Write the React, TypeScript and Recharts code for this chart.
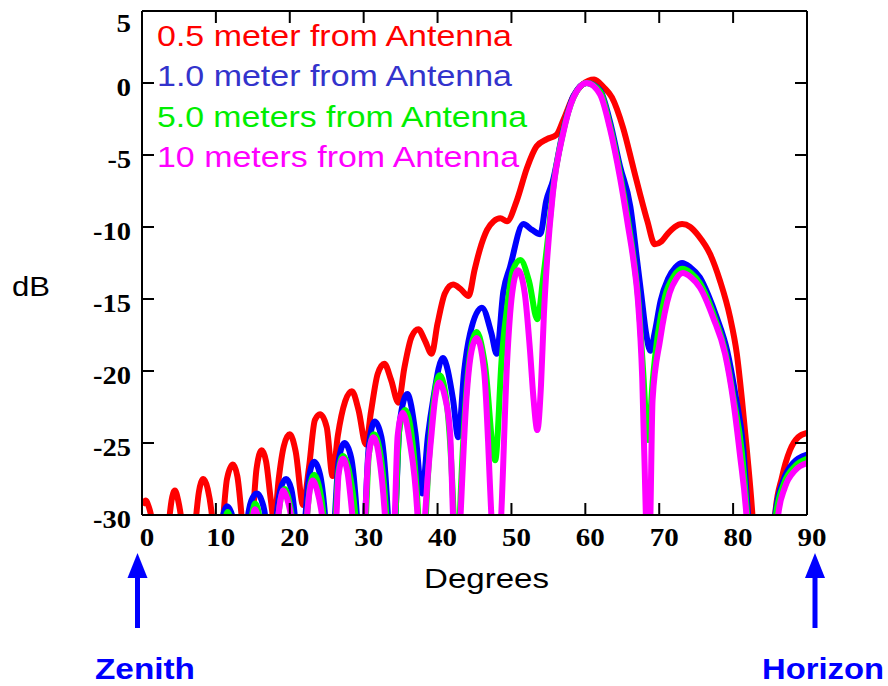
import { LineChart, Line, XAxis, YAxis } from 'recharts'

// angle from zenith (deg), level (dB)
const degTicks = [0, 10, 20, 30, 40, 50, 60, 70, 80, 90]
const dbTicks = [5, 0, -5, -10, -15, -20, -25, -30]

const legendLabels = [
  '0.5 meter from Antenna',
  '1.0 meter from Antenna',
  '5.0 meters from Antenna',
  '10 meters from Antenna',
]

const red05: [number, number][] = [
  [0, -29.3], [0.5, -29.0], [0.9, -29.4], [1.3, -30.2], [2.5, -36],
  [3.7, -30.2], [4.0, -29.0], [4.45, -28.3], [4.9, -29.0], [5.3, -30.2], [6.3, -36],
  [7.3, -30.2], [7.7, -28.4], [8.3, -27.5], [8.9, -28.2], [9.5, -30.2], [10.3, -36],
  [11.0, -30.2], [11.5, -27.5], [12.3, -26.5], [12.9, -27.3], [13.5, -30.2], [14.3, -36],
  [15.0, -30.2], [15.5, -26.8], [16.2, -25.5], [16.8, -26.3], [17.4, -28.8], [17.9, -30.5],
  [18.5, -27.5], [19.2, -25.2], [20.0, -24.4], [20.8, -25.6], [21.8, -29.3],
  [22.6, -26.7], [23.4, -23.4], [24.1, -23.0], [25.0, -23.9], [25.8, -27.3],
  [26.5, -24.5], [27.5, -22.1], [28.4, -21.4], [29.3, -22.7], [30.3, -25.1],
  [31.0, -22.8], [31.9, -20.2], [32.8, -19.5], [33.7, -20.6], [34.7, -22.2],
  [35.5, -19.8], [36.5, -17.6], [37.4, -17.1], [38.3, -17.9], [39.2, -18.8],
  [40.0, -16.7], [41.0, -14.6], [42.1, -14.0], [43.1, -14.3], [44.2, -14.8],
  [45.0, -13.0], [45.7, -11.6], [46.7, -10.2], [47.6, -9.6], [48.5, -9.4], [49.4, -9.6],
  [50.7, -8.2], [52.1, -5.9], [53.4, -4.4], [54.8, -3.9], [56.1, -3.6], [57.0, -2.6],
  [58.4, -0.9], [59.6, -0.1], [61.2, 0.25], [62.5, -0.3], [63.6, -1.0], [65.1, -3.1],
  [66.5, -5.9], [67.4, -7.7], [68.4, -9.6], [69.4, -11.2], [70.3, -11.0], [71.1, -10.5],
  [72.1, -10.0], [73.1, -9.8], [74.2, -10.0], [75.3, -10.6], [76.9, -11.9], [78.2, -13.7],
  [79.6, -16.3], [80.5, -18.8], [81.2, -22.0], [81.9, -25.7], [82.6, -29.9], [83.3, -36],
  [85.0, -36], [85.7, -29.9], [86.6, -27.4], [87.7, -25.5], [88.8, -24.6], [90, -24.3],
]

const blue10: [number, number][] = [
  [9.8, -36], [10.9, -30.2], [11.5, -29.4], [12.3, -30.2], [13.3, -36],
  [14.3, -30.2], [14.8, -29.0], [15.55, -28.5], [16.2, -29.0], [16.7, -30.2], [17.4, -36],
  [18.2, -30.2], [18.7, -28.3], [19.5, -27.5], [20.2, -28.2], [20.7, -30.2], [21.4, -36],
  [22.1, -30.2], [22.6, -27.4], [23.3, -26.3], [24.1, -27.2], [24.8, -30.2], [25.5, -36],
  [26.1, -30.2], [26.6, -26.3], [27.4, -25.0], [28.3, -26.0], [29.1, -30.2], [29.7, -36],
  [30.2, -30.2], [30.7, -25.2], [31.5, -23.5], [32.4, -24.6], [33.3, -30.2], [33.8, -36],
  [34.3, -30.2], [34.9, -23.5], [35.9, -21.6], [37.0, -24.3], [37.9, -28.5],
  [38.7, -24.5], [39.4, -22.0], [40.7, -19.1], [42.1, -22.0], [42.8, -24.6],
  [43.6, -20.0], [44.4, -17.4], [46.0, -15.6], [47.3, -17.4], [48.0, -18.8],
  [48.9, -14.5], [49.8, -12.8], [51.6, -9.8], [52.8, -10.2], [53.9, -10.5],
  [54.7, -8.2], [55.6, -6.8], [57.0, -3.3], [58.4, -0.9], [60.2, 0.0], [62.0, -0.5],
  [63.3, -2.6], [64.7, -5.8], [66.1, -8.6], [67.0, -12.3], [67.6, -14.8], [68.2, -17.3],
  [68.8, -18.6], [69.4, -17.3], [70.2, -15.1], [71.2, -13.6], [72.2, -12.8], [73.1, -12.5],
  [74.2, -12.8], [75.5, -13.5], [76.7, -14.8], [77.8, -16.3], [79.2, -18.6], [80.3, -21.6],
  [81.4, -25.5], [82.0, -29.9], [82.7, -36], [85.0, -36], [85.7, -30], [86.8, -27.6],
  [88.1, -26.4], [90, -25.8],
]

const green50: [number, number][] = [
  [11.0, -36], [11.3, -30.2], [11.6, -29.8], [11.9, -30.2], [12.5, -36],
  [14.8, -30.2], [15.3, -29.2], [15.9, -30.2], [16.8, -36],
  [18.4, -30.2], [18.8, -28.8], [19.3, -28.2], [19.8, -28.8], [20.3, -30.2], [21.2, -36],
  [22.3, -30.2], [22.8, -27.8], [23.3, -27.2], [23.9, -27.9], [24.6, -30.2], [25.4, -36],
  [26.2, -30.2], [26.6, -26.9], [27.2, -25.9], [28.0, -26.9], [28.9, -30.2], [29.6, -36],
  [30.3, -30.2], [30.7, -25.8], [31.4, -24.4], [32.2, -25.6], [33.1, -30.2], [33.7, -36],
  [34.3, -30.2], [34.8, -24.2], [35.6, -22.7], [36.5, -24.5], [37.4, -30.2], [37.9, -36],
  [38.4, -30.2], [39.2, -23.6], [40.3, -20.3], [41.3, -22.5], [42.2, -30.2], [42.6, -36],
  [43.0, -30.2], [43.9, -21.4], [44.6, -18.2], [45.3, -17.3], [46.4, -19.5], [47.8, -26.2],
  [48.7, -19.0], [49.5, -15.2], [50.2, -13.0], [51.2, -12.3], [52.4, -13.8], [53.5, -16.4],
  [54.3, -13.5], [55.0, -10.5], [55.6, -7.5], [57.0, -3.4], [58.4, -1.0], [60.2, 0.0],
  [62.0, -0.6], [63.3, -2.9], [64.7, -6.3], [65.8, -9.6], [66.5, -12.0], [67.2, -15.2],
  [67.8, -19.8], [68.5, -24.8], [69.1, -20.8], [69.8, -17.5], [70.8, -14.8], [72.0, -13.4],
  [73.1, -12.9], [74.3, -13.2], [75.5, -13.9], [77.5, -16.3], [79.0, -18.8], [80.1, -22.0],
  [81.2, -25.7], [81.9, -30], [82.6, -36], [85.2, -36], [85.8, -30], [86.9, -27.8],
  [88.4, -26.6], [90, -26.1],
]

const magenta100: [number, number][] = [
  [14.3, -36], [15.0, -30.2], [15.3, -29.6], [15.7, -30.2], [16.6, -36],
  [18.4, -30.2], [18.8, -28.8], [19.1, -28.3], [19.6, -28.8], [20.2, -30.2], [21.2, -36],
  [22.3, -30.2], [22.7, -28.3], [23.1, -27.6], [23.7, -28.3], [24.4, -30.2], [25.3, -36],
  [26.3, -30.2], [26.6, -27.2], [27.2, -26.1], [27.8, -27.0], [28.5, -30.2], [29.4, -36],
  [30.2, -30.2], [30.6, -26.2], [31.3, -24.6], [32.1, -26.0], [32.9, -30.2], [33.5, -36],
  [34.2, -30.2], [34.6, -24.5], [35.3, -22.9], [36.2, -24.8], [37.3, -30.2], [37.8, -36],
  [38.3, -30.2], [39.2, -24.3], [39.7, -21.8], [40.2, -20.8], [41.0, -21.8], [41.7, -24.3],
  [42.1, -30.2], [42.6, -36],
  [43.1, -30.2], [43.9, -22.0], [44.6, -18.6], [45.3, -17.7], [46.3, -20.0], [47.3, -30.2],
  [47.9, -36],
  [48.6, -30.2], [49.4, -19.5], [50.1, -14.6], [50.9, -13.0], [51.8, -14.6], [52.5, -18.5],
  [53.0, -22.0], [53.5, -24.1], [54.0, -21.0], [54.4, -16.0], [54.8, -12.5], [55.6, -7.7],
  [57.0, -3.5], [58.4, -1.0], [60.2, 0.0], [62.0, -0.8], [63.3, -3.1], [64.7, -6.6],
  [65.8, -10.0], [66.5, -12.3], [67.1, -15.0], [67.7, -20.5], [68.2, -30.2], [68.5, -36],
  [68.8, -30.2], [69.1, -22.0], [70.1, -17.9], [71.4, -14.6], [72.3, -13.6], [73.2, -13.2],
  [74.3, -13.5], [75.5, -14.2], [77.3, -16.3], [78.9, -18.8], [80.0, -22.0], [80.9, -25.7],
  [81.8, -30], [82.5, -36], [85.6, -36], [86.1, -30], [87.0, -28.1], [88.4, -26.9], [90, -26.4],
]

const toRows = (pts: [number, number][]) => pts.map(([deg, db]) => ({ deg, db }))

const series = [
  { name: legendLabels[0], pts: red05, color: '#ff0000' },
  { name: legendLabels[1], pts: blue10, color: '#0000ff' },
  { name: legendLabels[2], pts: green50, color: '#00ff00' },
  { name: legendLabels[3], pts: magenta100, color: '#ff00ff' },
]

const legendColors = ['#ff0000', '#3333cc', '#00ee00', '#ff00ff']
const legendWidths = [355, 355, 370, 362]

const serif = '"Liberation Serif", "Times New Roman", serif'
const sans = '"Liberation Sans", Arial, sans-serif'

// the original labels are a little wider than plain Times bold
const labelWidth = (v: number) => {
  const s = String(v)
  return s.replace('-', '').length * 14.5 + (s.startsWith('-') ? 9 : 0)
}

const XTick = ({ x, y, payload }: any) => (
  <text
    x={x + 5 - labelWidth(payload.value) / 2}
    y={y + 31}
    fontFamily={serif}
    fontWeight="bold"
    fontSize={26}
    fill="#000"
    textLength={labelWidth(payload.value)}
    lengthAdjust="spacingAndGlyphs"
  >
    {payload.value}
  </text>
)

const YTick = ({ x, y, payload }: any) => (
  <text
    x={x - labelWidth(payload.value)}
    y={payload.value === 5 ? y + 21 : y + 13}
    fontFamily={serif}
    fontWeight="bold"
    fontSize={26}
    fill="#000"
    textLength={labelWidth(payload.value)}
    lengthAdjust="spacingAndGlyphs"
  >
    {payload.value}
  </text>
)

const noTick = () => <g />

const frame = { stroke: '#000', strokeWidth: 2 }

function Arrow({ cx }: { cx: number }) {
  return (
    <g fill="#0000ff">
      <rect x={cx - 2.5} y={574} width={5} height={54} />
      <polygon points={`${cx - 10},${578} ${cx + 10},${578} ${cx},${553}`} />
    </g>
  )
}

export default function App() {
  return (
    <div style={{ position: 'absolute', left: 0, top: 0, width: 888, height: 686, background: '#fff' }}>
      <LineChart width={888} height={686} margin={{ top: 1, right: 61, bottom: 131, left: 82 }}>
        <XAxis
          dataKey="deg"
          type="number"
          domain={[0, 90]}
          ticks={degTicks}
          interval={0}
          allowDataOverflow
          height={40}
          tickSize={-12}
          tickMargin={12}
          axisLine={frame}
          tickLine={frame}
          tick={XTick}
        />
        <XAxis
          xAxisId="t"
          orientation="top"
          dataKey="deg"
          type="number"
          domain={[0, 90]}
          ticks={degTicks}
          interval={0}
          allowDataOverflow
          height={10}
          tickSize={-12}
          axisLine={frame}
          tickLine={frame}
          tick={noTick}
        />
        <YAxis
          type="number"
          domain={[-30, 5]}
          ticks={dbTicks}
          interval={0}
          allowDataOverflow
          width={60}
          tickSize={-12}
          tickMargin={23}
          axisLine={frame}
          tickLine={frame}
          tick={YTick}
        />
        <YAxis
          yAxisId="r"
          orientation="right"
          type="number"
          domain={[-30, 5]}
          ticks={dbTicks}
          interval={0}
          allowDataOverflow
          width={20}
          tickSize={-12}
          axisLine={frame}
          tickLine={frame}
          tick={noTick}
        />
        {series.map((s) => (
          <Line
            key={s.name}
            name={s.name}
            data={toRows(s.pts)}
            dataKey="db"
            type="monotone"
            stroke={s.color}
            strokeWidth={6}
            strokeLinejoin="round"
            dot={false}
            activeDot={false}
            isAnimationActive={false}
          />
        ))}
      </LineChart>
      <svg width={888} height={686} style={{ position: 'absolute', left: 0, top: 0, pointerEvents: 'none' }}>
        {legendLabels.map((lb, i) => (
          <text
            key={lb}
            x={157}
            y={46 + i * 40.3}
            fontFamily={sans}
            fontSize={29}
            fill={legendColors[i]}
            textLength={legendWidths[i]}
            lengthAdjust="spacingAndGlyphs"
          >
            {lb}
          </text>
        ))}
        <text x={12} y={296} fontFamily={sans} fontSize={28} fill="#000" textLength={38} lengthAdjust="spacingAndGlyphs">
          dB
        </text>
        <text x={424} y={588} fontFamily={sans} fontSize={28} fill="#000" textLength={125} lengthAdjust="spacingAndGlyphs">
          Degrees
        </text>
        <Arrow cx={137.5} />
        <Arrow cx={815} />
        <text x={95} y={679} fontFamily={sans} fontWeight="bold" fontSize={29} fill="#0000ff" textLength={100} lengthAdjust="spacingAndGlyphs">
          Zenith
        </text>
        <text x={762} y={679} fontFamily={sans} fontWeight="bold" fontSize={29} fill="#0000ff" textLength={122} lengthAdjust="spacingAndGlyphs">
          Horizon
        </text>
      </svg>
    </div>
  )
}
